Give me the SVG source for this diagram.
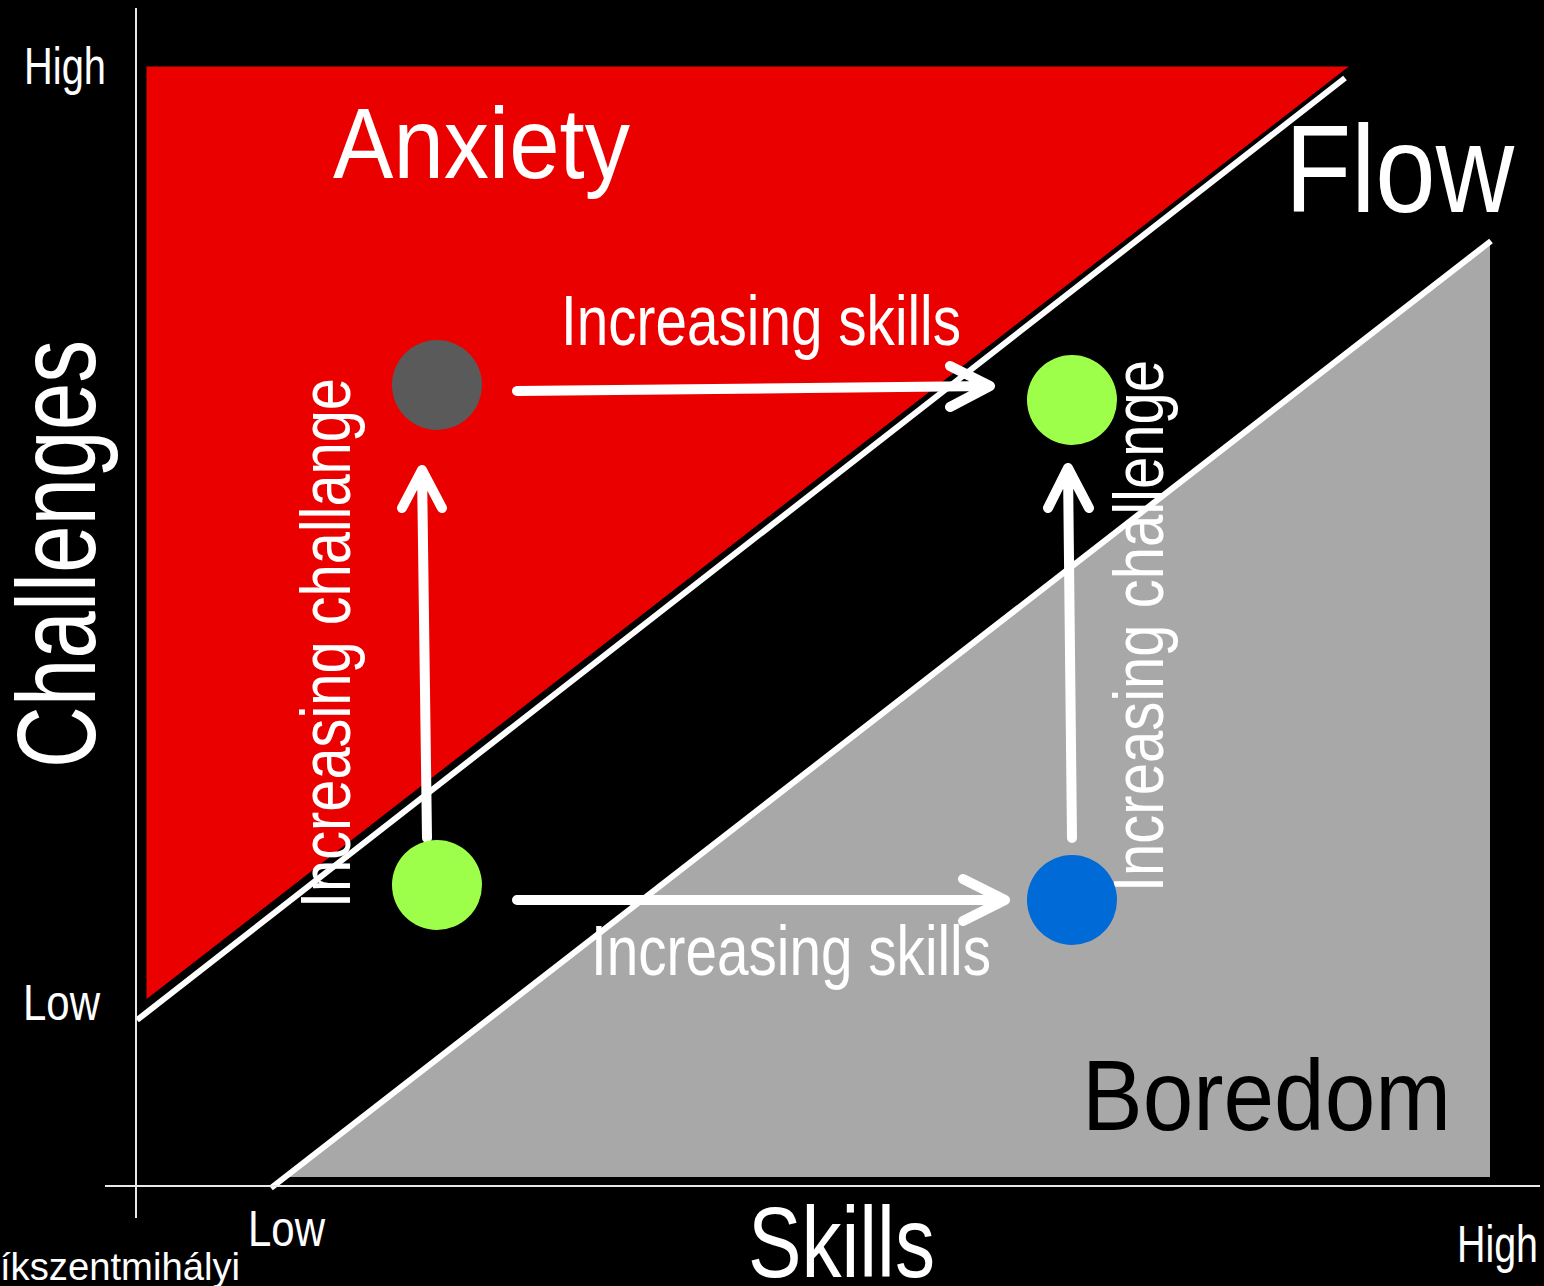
<svg xmlns="http://www.w3.org/2000/svg" width="1544" height="1286" viewBox="0 0 1544 1286">
<style>
.t{font-family:"Liberation Sans",Arial,sans-serif;fill:#fff}
.arr{stroke:#fff;stroke-width:10;fill:none;stroke-linecap:round;stroke-linejoin:round}
.ax{stroke:#e8e8e8;stroke-width:2}
.div{stroke:#fff;stroke-width:6}
</style>
<rect width="1544" height="1286" fill="#000"/>
<g id="regions">
<polygon id="anxiety-region" points="146,66 1350,66 146,1000" fill="#eb0000" stroke="#000" stroke-width="1"/>
<polygon id="boredom-region" points="288,1177 1490,242 1490,1177" fill="#a8a8a8"/>
<line class="div" x1="137" y1="1020" x2="1345" y2="78"/>
<line class="div" x1="271" y1="1188" x2="1491" y2="241"/>
</g>
<g id="axes">
<line class="ax" x1="136" y1="8" x2="136" y2="1218"/>
<line class="ax" x1="105" y1="1186" x2="1540" y2="1186"/>
</g>
<g id="labels">
<text class="t" x="24" y="84" font-size="52" textLength="82" lengthAdjust="spacingAndGlyphs">High</text>
<text class="t" x="23" y="1020" font-size="50" textLength="77" lengthAdjust="spacingAndGlyphs">Low</text>
<text class="t" x="248" y="1246" font-size="50" textLength="77" lengthAdjust="spacingAndGlyphs">Low</text>
<text class="t" x="1457" y="1262" font-size="52" textLength="81" lengthAdjust="spacingAndGlyphs">High</text>
<text class="t" x="0" y="1280" font-size="38" textLength="240" lengthAdjust="spacingAndGlyphs">íkszentmihályi</text>
<text class="t" x="748" y="1277" font-size="100" textLength="187" lengthAdjust="spacingAndGlyphs">Skills</text>
<text class="t" transform="translate(95,768) rotate(-90)" font-size="112" textLength="428" lengthAdjust="spacingAndGlyphs">Challenges</text>
<text class="t" x="333" y="178" font-size="100" textLength="297" lengthAdjust="spacingAndGlyphs">Anxiety</text>
<text class="t" x="1285" y="212" font-size="124" textLength="229" lengthAdjust="spacingAndGlyphs">Flow</text>
<text class="t" x="1082" y="1130" font-size="100" textLength="369" lengthAdjust="spacingAndGlyphs" style="fill:#000">Boredom</text>
</g>
<g id="connectors">
<path class="arr" d="M517,391 L990,386 M950,366 L990,386 L950,407"/>
<path class="arr" d="M517,900 L1005,900 M963,879 L1005,900 L963,921"/>
<path class="arr" d="M427,838 L422,470 M402,508 L422,470 L442,508"/>
<path class="arr" d="M1072,838 L1068,468 M1048,508 L1068,468 L1089,508"/>
<text class="t" x="561" y="345" font-size="70" textLength="400" lengthAdjust="spacingAndGlyphs">Increasing skills</text>
<text class="t" x="591" y="975" font-size="70" textLength="400" lengthAdjust="spacingAndGlyphs">Increasing skills</text>
<text class="t" transform="translate(350,908) rotate(-90)" font-size="70" textLength="530" lengthAdjust="spacingAndGlyphs">Increasing challange</text>
<text class="t" transform="translate(1163,892) rotate(-90)" font-size="70" textLength="532" lengthAdjust="spacingAndGlyphs">Increasing challenge</text>
</g>
<g id="node-gray"><circle cx="437" cy="385" r="45" fill="#5a5a5a"/></g>
<g id="node-green-low"><circle cx="437" cy="885" r="45" fill="#9dff4a"/></g>
<g id="node-green-high"><circle cx="1072" cy="400" r="45" fill="#9dff4a"/></g>
<g id="node-blue"><circle cx="1072" cy="900" r="45" fill="#006ad6"/></g>
</svg>
